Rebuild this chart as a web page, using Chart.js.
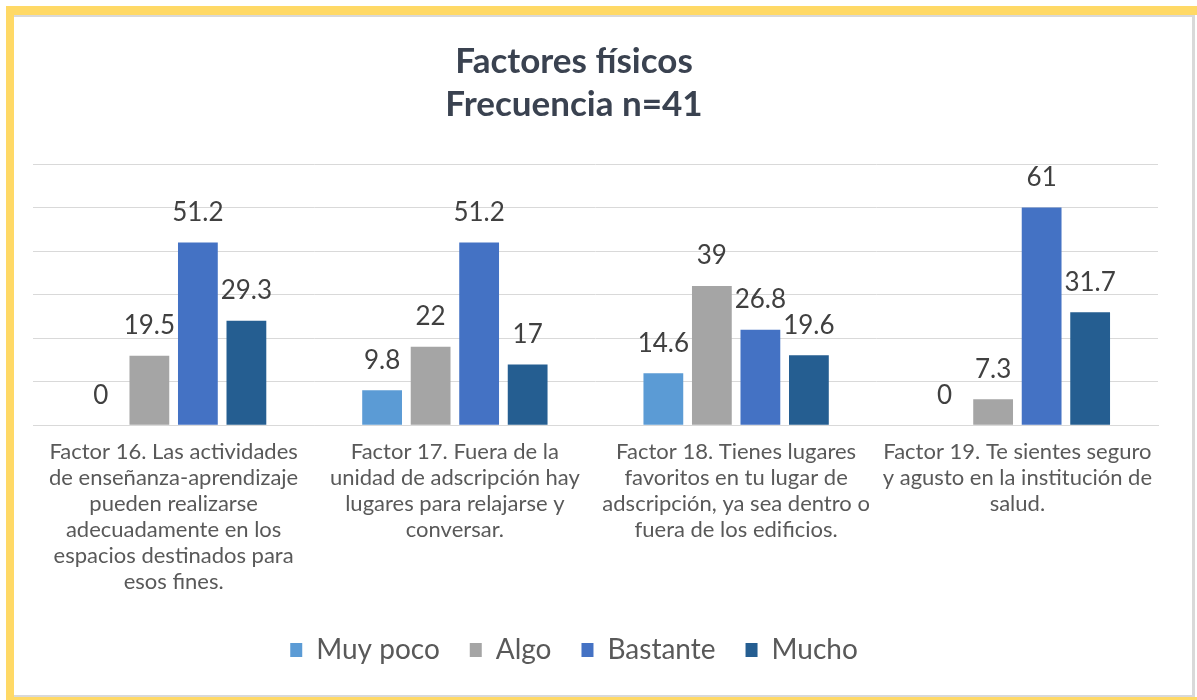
<!DOCTYPE html>
<html>
<head>
<meta charset="utf-8">
<script src="https://cdn.jsdelivr.net/npm/chart.js@4.4.1/dist/chart.umd.min.js"></script>
<style>
  html, body { margin: 0; padding: 0; background: #ffffff; overflow: hidden; }
  #wrap { position: relative; width: 1197px; height: 700px; overflow: hidden; }
  #frame {
    position: absolute; left: 6px; top: 6px; width: 1200px; height: 700px; box-sizing: border-box;
    border: 9px solid #ffd966; border-left-width: 8px; pointer-events: none;
  }
  #inner {
    position: absolute; left: 14px; top: 15px; width: 1181px; height: 682px; box-sizing: border-box;
    border-top: 2px solid #d9d9d9; border-right: 3px solid #d9d9d9; border-bottom: 2px solid #d9d9d9;
    pointer-events: none;
  }
  /* el lienzo se corre a la izquierda para que título y leyenda queden centrados como en el original */
  canvas { position: absolute; left: -30px; top: 0; }
</style>
</head>
<body>
<div id="wrap">
  <canvas id="chart" width="1227" height="700"></canvas>
  <div id="inner"></div>
  <div id="frame"></div>
</div>
<script>
const categories = [
  ['Factor 16. Las actividades', 'de enseñanza-aprendizaje', 'pueden realizarse', 'adecuadamente en los', 'espacios destinados para', 'esos fines.'],
  ['Factor 17. Fuera de la', 'unidad de adscripción hay', 'lugares para relajarse y', 'conversar.'],
  ['Factor 18. Tienes lugares', 'favoritos en tu lugar de', 'adscripción, ya sea dentro o', 'fuera de los edificios.'],
  ['Factor 19. Te sientes seguro', 'y agusto en la institución de', 'salud.']
];
const muyPoco = [0, 9.8, 14.6, 0];
const algo = [19.5, 22, 39, 7.3];
const bastante = [51.2, 51.2, 26.8, 61];
const mucho = [29.3, 17, 19.6, 31.7];

// etiquetas de valor encima de cada barra
const valueLabels = {
  id: 'valueLabels',
  afterDatasetsDraw(chart) {
    const ctx = chart.ctx;
    ctx.save();
    ctx.font = '26px Lato';
    ctx.fillStyle = '#404040';
    ctx.textAlign = 'center';
    ctx.textBaseline = 'middle';
    chart.data.datasets.forEach((ds, i) => {
      chart.getDatasetMeta(i).data.forEach((bar, j) => {
        ctx.fillText(String(ds.data[j]), bar.x, bar.y - 30);
      });
    });
    ctx.restore();
  }
};

new Chart(document.getElementById('chart'), {
  type: 'bar',
  data: {
    labels: categories,
    datasets: [
      { label: 'Muy poco', data: muyPoco, backgroundColor: '#5b9bd5' },
      { label: 'Algo', data: algo, backgroundColor: '#a5a5a5' },
      { label: 'Bastante', data: bastante, backgroundColor: '#4472c4' },
      { label: 'Mucho', data: mucho, backgroundColor: '#255e91' }
    ]
  },
  options: {
    responsive: false,
    animation: false,
    datasets: { bar: { categoryPercentage: 0.69, barPercentage: 0.82 } },
    layout: { padding: { left: 0, right: 19, top: 20, bottom: 26 } },
    scales: {
      x: {
        grid: { display: false },
        border: { color: '#d9d9d9' },
        afterFit(scale) { scale.height += 5; },
        ticks: { color: '#595959', font: { family: 'Lato', size: 22, lineHeight: 1.18 }, padding: 6, maxRotation: 0, autoSkip: false }
      },
      y: {
        min: 0,
        max: 73.2,
        afterFit(scale) { scale.width = 63; },
        ticks: { display: false, stepSize: 12.2 },
        grid: { color: '#d9d9d9', drawTicks: false },
        border: { display: false }
      },
      yRight: {
        position: 'right',
        min: 0,
        max: 1,
        afterFit(scale) { scale.width = 20; },
        ticks: { display: false },
        grid: { display: false },
        border: { display: false }
      }
    },
    plugins: {
      title: {
        display: true,
        text: ['Factores físicos', 'Frecuencia n=41'],
        color: '#3a4250',
        font: { family: 'Lato', size: 35, weight: 'bold', lineHeight: 1.23 },
        padding: { top: 20, bottom: 38 }
      },
      legend: {
        position: 'bottom',
        labels: { color: '#595959', font: { family: 'Lato', size: 28 }, boxWidth: 12, boxHeight: 14, padding: 30 }
      },
      tooltip: { enabled: false }
    }
  },
  plugins: [valueLabels]
});
</script>
</body>
</html>
